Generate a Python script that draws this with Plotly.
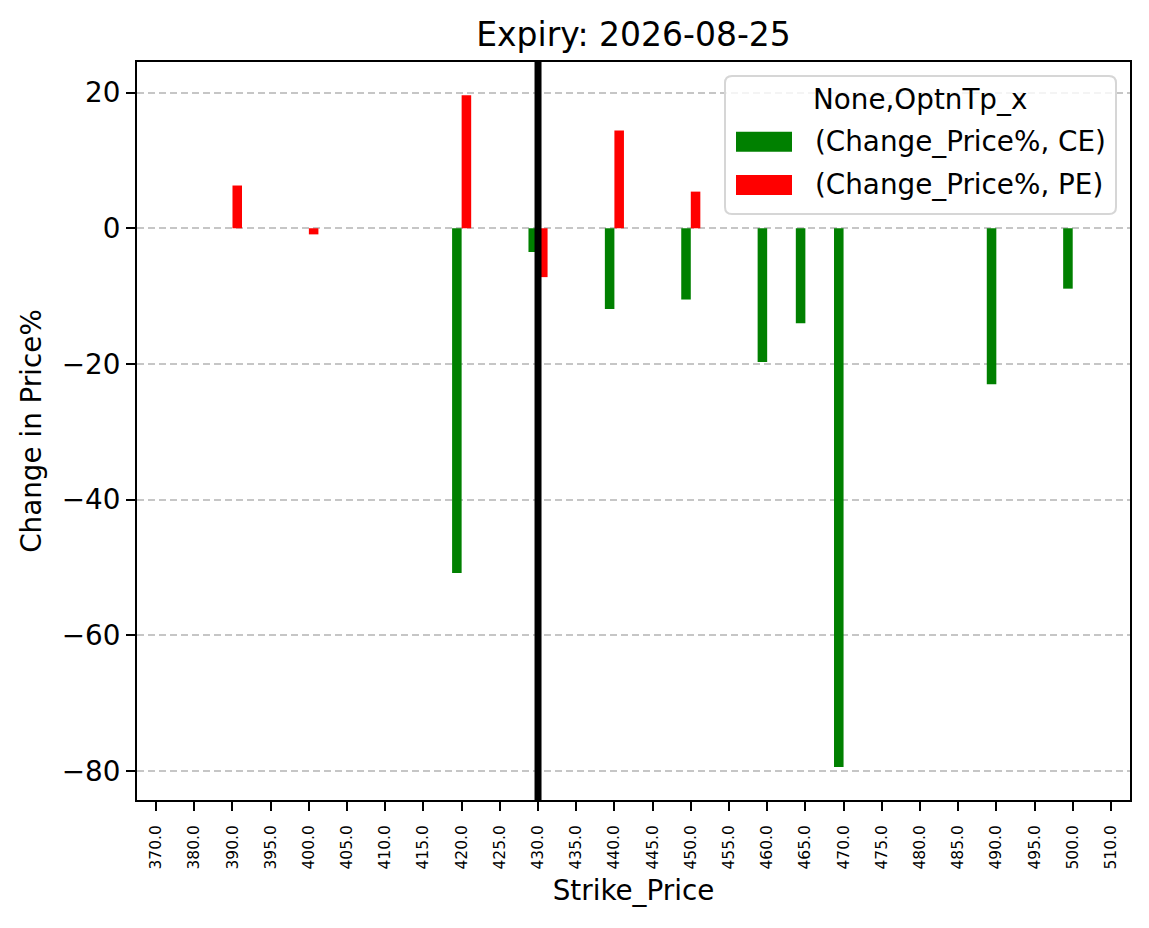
import plotly.graph_objects as go

# ---- data ----
strikes = ["370.0", "380.0", "390.0", "395.0", "400.0", "405.0", "410.0", "415.0",
           "420.0", "425.0", "430.0", "435.0", "440.0", "445.0", "450.0", "455.0",
           "460.0", "465.0", "470.0", "475.0", "480.0", "485.0", "490.0", "495.0",
           "500.0", "510.0"]
ce_change = [None, None, None, None, None, None, None, None,
             -50.8, None, -3.5, None, -11.9, None, -10.5, None,
             -19.7, -14.0, -79.4, None, None, None, -23.0, None,
             -8.9, None]
pe_change = [None, None, 6.3, None, -0.9, None, None, None,
             19.6, None, -7.2, None, 14.4, None, 5.4, None,
             None, None, None, None, None, None, None, None,
             None, None]
atm_strike = "430.0"
series_names = ["(Change_Price%, CE)", "(Change_Price%, PE)"]
legend_title = "None,OptnTp_x"
y_ticks = [-80, -60, -40, -20, 0, 20]

FONT = "DejaVu Sans"
W, H = 1149, 928
L, R, T, B = 137, 19, 62, 128
PW, PH = W - L - R, H - T - B


def px(x):
    return (x - L) / PW


def py(y):
    return (H - B - y) / PH


fig = go.Figure()
fig.add_trace(go.Bar(x=strikes, y=ce_change, name=series_names[0],
                     marker=dict(color="#008000", line=dict(width=0)),
                     showlegend=False))
fig.add_trace(go.Bar(x=strikes, y=pe_change, name=series_names[1],
                     marker=dict(color="#ff0000", line=dict(width=0)),
                     showlegend=False))

# ATM vertical line (category position)
atm_idx = strikes.index(atm_strike)
fig.add_shape(type="line", xref="x", yref="paper", x0=atm_idx, x1=atm_idx,
              y0=0, y1=1, line=dict(color="black", width=7), layer="above")

# ---- manual legend (matplotlib style) ----
bx0, bx1, by0, by1, r = 725, 1116, 76, 214, 7
path = (f"M{px(bx0 + r)},{py(by0)} L{px(bx1 - r)},{py(by0)} "
        f"Q{px(bx1)},{py(by0)} {px(bx1)},{py(by0 + r)} "
        f"L{px(bx1)},{py(by1 - r)} Q{px(bx1)},{py(by1)} {px(bx1 - r)},{py(by1)} "
        f"L{px(bx0 + r)},{py(by1)} Q{px(bx0)},{py(by1)} {px(bx0)},{py(by1 - r)} "
        f"L{px(bx0)},{py(by0 + r)} Q{px(bx0)},{py(by0)} {px(bx0 + r)},{py(by0)} Z")
fig.add_shape(type="path", xref="paper", yref="paper", path=path,
              line=dict(color="#d6d6d6", width=2), fillcolor="rgba(255,255,255,0.8)",
              layer="above")
swatch_colors = ["#008000", "#ff0000"]
row_y = [141.7, 185.0]
for name, col, yy in zip(series_names, swatch_colors, row_y):
    fig.add_shape(type="rect", xref="paper", yref="paper",
                  x0=px(736), x1=px(792), y0=py(yy - 10), y1=py(yy + 10),
                  fillcolor=col, line=dict(width=0), layer="above")
    fig.add_annotation(xref="paper", yref="paper", x=px(813), y=py(yy),
                       text=name, showarrow=False, xanchor="left", yanchor="middle",
                       font=dict(family=FONT, size=27.8, color="black"))
fig.add_annotation(xref="paper", yref="paper", x=px(920), y=py(99),
                   text=legend_title, showarrow=False, xanchor="center", yanchor="middle",
                   font=dict(family=FONT, size=27.8, color="black"))

fig.update_layout(
    width=W, height=H,
    margin=dict(l=L, r=R, t=T, b=B, pad=0),
    paper_bgcolor="white", plot_bgcolor="white",
    barmode="group", bargap=0.5, bargroupgap=0,
    showlegend=False,
    font=dict(family=FONT, color="black"),
    title=dict(text="Expiry: 2026-08-25", x=0.5, xref="paper", xanchor="center",
               y=1 - 34 / H, yref="container", yanchor="middle",
               font=dict(family=FONT, size=33, color="black")),
    xaxis=dict(
        type="category", range=[-0.5, len(strikes) - 0.5],
        tickangle=-90, tickfont=dict(family=FONT, size=15.5, color="black"),
        ticks="outside", ticklen=9, tickwidth=2, tickcolor="black",
        ticklabelstandoff=8,
        showline=True, linecolor="black", linewidth=2, mirror=True,
        showgrid=False, zeroline=False,
        title=dict(text="Strike_Price", standoff=12,
                   font=dict(family=FONT, size=27.8, color="black")),
    ),
    yaxis=dict(
        range=[-84.25, 24.5], tickvals=y_ticks,
        tickfont=dict(family=FONT, size=27.8, color="black"),
        ticks="outside", ticklen=9, tickwidth=2, tickcolor="black",
        showline=True, linecolor="black", linewidth=2, mirror=True,
        showgrid=True, gridcolor="#c6c6c6", gridwidth=2, griddash="7px,4px",
        zeroline=False,
        title=dict(text="Change in Price%", standoff=12,
                   font=dict(family=FONT, size=27.8, color="black")),
    ),
)

fig.write_html("out.html")
